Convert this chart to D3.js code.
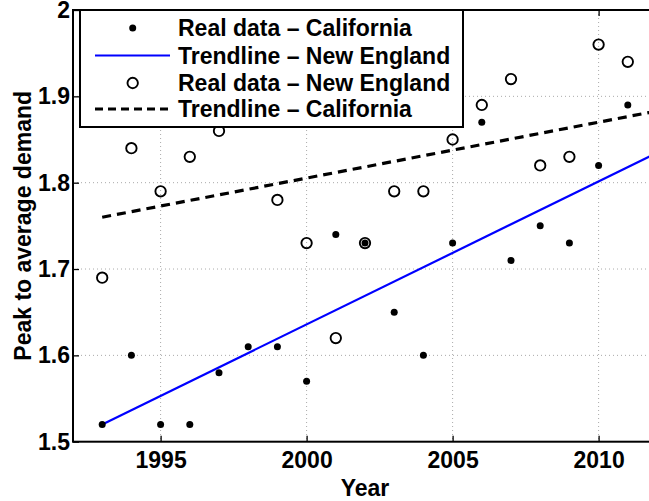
<!DOCTYPE html>
<html>
<head>
<meta charset="utf-8">
<script src="https://d3js.org/d3.v7.min.js"></script>
<style>
  html, body { margin: 0; padding: 0; background: #fff; overflow: hidden; }
  svg { display: block; }
  text { font-family: "Liberation Sans", Arial, Helvetica, sans-serif; font-weight: bold; fill: #000; }
</style>
</head>
<body>
<script>
// ---- Data ----
const years = [1993, 1994, 1995, 1996, 1997, 1998, 1999, 2000, 2001, 2002,
               2003, 2004, 2005, 2006, 2007, 2008, 2009, 2010, 2011];
const californiaValues = [1.52, 1.60, 1.52, 1.52, 1.58, 1.61, 1.61, 1.57, 1.74, 1.73,
                          1.65, 1.60, 1.73, 1.87, 1.71, 1.75, 1.73, 1.82, 1.89];
const newEnglandValues = [1.69, 1.84, 1.79, 1.83, 1.86, 1.90, 1.78, 1.73, 1.62, 1.73,
                          1.79, 1.79, 1.85, 1.89, 1.92, 1.82, 1.83, 1.96, 1.94];
const trendNewEnglandYears = [1993, 2012];
const trendNewEnglandValues = [1.52, 1.8345];
const trendCaliforniaYears = [1993, 2012];
const trendCaliforniaValues = [1.76, 1.883];
const xTicks = [1995, 2000, 2005, 2010];
const yTicks = [1.5, 1.6, 1.7, 1.8, 1.9, 2.0];
const yTickLabels = ["1.5", "1.6", "1.7", "1.8", "1.9", "2"];
const legendLabels = ["Real data \u2013 California", "Trendline \u2013 New England",
                      "Real data \u2013 New England", "Trendline \u2013 California"];

// ---- Layout ----
const W = 649, H = 501;
const pLeft = 73, pRight = 657, pTop = 10, pBottom = 441.7;
const FS = "23px";

const svg = d3.select("body").append("svg").attr("width", W).attr("height", H);

const x = d3.scaleLinear().domain([1992, 2012]).range([pLeft, pRight]);
const y = d3.scaleLinear().domain([1.5, 2.0]).range([pBottom, pTop]);

// Grid
const grid = svg.append("g");
grid.selectAll("line.gx").data(xTicks).join("line")
  .attr("x1", d => x(d)).attr("x2", d => x(d)).attr("y1", pTop).attr("y2", pBottom)
  .attr("stroke", "#aaa").attr("stroke-width", 1).attr("stroke-dasharray", "1,3");
grid.selectAll("line.gy").data(yTicks.slice(1, -1)).join("line")
  .attr("x1", pLeft).attr("x2", pRight).attr("y1", d => y(d)).attr("y2", d => y(d))
  .attr("stroke", "#aaa").attr("stroke-width", 1).attr("stroke-dasharray", "1,3");

function styleAxis(g) {
  g.select(".domain").remove();
  g.selectAll("line").attr("stroke", "#000").attr("stroke-width", 1.3);
  g.selectAll("text").style("font-size", FS).style("font-family", "Liberation Sans, Arial, sans-serif")
    .style("font-weight", "bold").attr("fill", "#000");
}

// Axes
const xAxis = d3.axisBottom(x).tickValues(xTicks).tickFormat(d3.format("d")).tickSizeInner(-6).tickSizeOuter(0).tickPadding(10);
styleAxis(svg.append("g").attr("transform", `translate(0,${pBottom})`).call(xAxis));
const xAxisTop = d3.axisTop(x).tickValues(xTicks).tickFormat("").tickSizeInner(-6).tickSizeOuter(0);
styleAxis(svg.append("g").attr("transform", `translate(0,${pTop})`).call(xAxisTop));

const yAxis = d3.axisLeft(y).tickValues(yTicks).tickFormat((d, i) => yTickLabels[i]).tickSizeInner(-6).tickSizeOuter(0).tickPadding(3);
styleAxis(svg.append("g").attr("transform", `translate(${pLeft},0)`).call(yAxis));

// Frame
svg.append("rect").attr("x", pLeft).attr("y", pTop).attr("width", pRight - pLeft).attr("height", pBottom - pTop)
  .attr("fill", "none").attr("stroke", "#000").attr("stroke-width", 2);

// Clip
svg.append("clipPath").attr("id", "clip").append("rect")
  .attr("x", pLeft).attr("y", pTop).attr("width", pRight - pLeft).attr("height", pBottom - pTop);
const plot = svg.append("g").attr("clip-path", "url(#clip)");

const line = d3.line().x(d => x(d[0])).y(d => y(d[1]));

// Trendlines
plot.append("path").datum(trendNewEnglandYears.map((d, i) => [d, trendNewEnglandValues[i]]))
  .attr("d", line).attr("fill", "none").attr("stroke", "#0000ff").attr("stroke-width", 2.2);
plot.append("path").datum(trendCaliforniaYears.map((d, i) => [d, trendCaliforniaValues[i]]))
  .attr("d", line).attr("fill", "none").attr("stroke", "#000").attr("stroke-width", 3.2)
  .attr("stroke-dasharray", "9,6");

// New England circles
plot.selectAll("circle.ne").data(years.map((d, i) => [d, newEnglandValues[i]])).join("circle")
  .attr("class", "ne")
  .attr("cx", d => x(d[0])).attr("cy", d => y(d[1])).attr("r", 5.2)
  .attr("fill", "none").attr("stroke", "#000").attr("stroke-width", 1.9);

// California dots
plot.selectAll("circle.ca").data(years.map((d, i) => [d, californiaValues[i]])).join("circle")
  .attr("class", "ca")
  .attr("cx", d => x(d[0])).attr("cy", d => y(d[1])).attr("r", 3.5)
  .attr("fill", "#000");

// Legend
const lg = svg.append("g");
lg.append("rect").attr("x", 80).attr("y", 10).attr("width", 383).attr("height", 117)
  .attr("fill", "#fff").attr("stroke", "#000").attr("stroke-width", 2);
const rowY = [28, 55.5, 83, 109];
const sx1 = 95, sx2 = 170, sxm = 132.7, tx = 178;
lg.append("circle").attr("cx", sxm).attr("cy", rowY[0]).attr("r", 3.5).attr("fill", "#000");
lg.append("line").attr("x1", sx1).attr("x2", sx2).attr("y1", rowY[1]).attr("y2", rowY[1])
  .attr("stroke", "#0000ff").attr("stroke-width", 2.2);
lg.append("circle").attr("cx", sxm).attr("cy", rowY[2]).attr("r", 5.2)
  .attr("fill", "none").attr("stroke", "#000").attr("stroke-width", 1.9);
lg.append("line").attr("x1", sx1).attr("x2", sx2).attr("y1", rowY[3]).attr("y2", rowY[3])
  .attr("stroke", "#000").attr("stroke-width", 3.2).attr("stroke-dasharray", "8,5");
lg.selectAll("text.lt").data(legendLabels).join("text")
  .attr("class", "lt")
  .attr("x", tx).attr("y", (d, i) => rowY[i]).attr("dy", "0.36em")
  .style("font-size", FS)
  .text(d => d);

// Axis titles
svg.append("text").attr("x", (pLeft + pRight) / 2).attr("y", 496).attr("text-anchor", "middle")
  .style("font-size", FS).text("Year");
svg.append("text").attr("transform", `translate(31,${(pTop + pBottom) / 2}) rotate(-90)`)
  .attr("text-anchor", "middle").style("font-size", FS).text("Peak to average demand");
</script>
</body>
</html>
